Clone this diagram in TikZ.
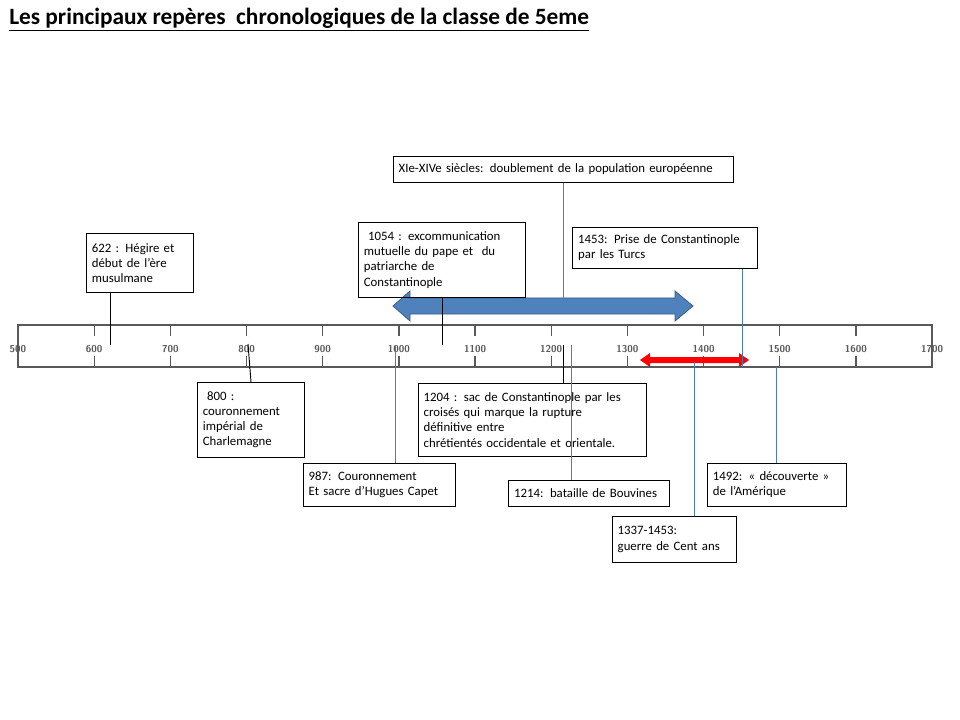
\documentclass[tikz,border=0pt]{standalone}
\usepackage{fontspec}
\setmainfont{Carlito}
\definecolor{lineblue}{RGB}{74,126,187}
\definecolor{arrblue}{RGB}{79,129,189}
\definecolor{arrborder}{RGB}{56,93,138}
\begin{document}
\begin{tikzpicture}[x=0.75pt,y=-0.75pt,
  ev/.style={draw,line width=0.6pt,anchor=north west,inner xsep=4pt,inner ysep=1pt,align=left,font=\fontsize{9.6}{11.4}\selectfont},
  bl/.style={lineblue,line width=0.6pt},
  bk/.style={black,line width=0.7pt},
  yr/.style={font=\sffamily\bfseries\fontsize{7.5}{8}\selectfont,text=black!65}]
\useasboundingbox (0,0) rectangle (960,720);
\node[anchor=west,font=\bfseries\fontsize{17.5}{19}\selectfont,inner sep=0pt] (title) at (9,20) {\underline{Les principaux repères\ \ chronologiques de la classe de 5eme}};
% axis
\draw[gray!70!black,line width=1pt] (18,325) rectangle (932,367);
\foreach \i in {0,...,12}{
  \pgfmathsetmacro\xx{18+76.17*\i}
  \draw[gray!70!black,line width=1pt] (\xx,325)--(\xx,336) (\xx,356)--(\xx,367);
  \pgfmathtruncatemacro\yy{500+100*\i}
  \node[yr] at (\xx,349) {\yy};
}
% blue arrow
\fill[arrblue,draw=arrborder,line width=0.6pt] (393,306)--(410,291)--(410,298)--(675,298)--(675,291)--(693,306)--(675,321)--(675,314)--(410,314)--(410,321)--cycle;
% red arrow
\fill[red] (640,360)--(650,353)--(650,357)--(739,357)--(739,353)--(749,360)--(739,367)--(739,363)--(650,363)--(650,367)--cycle;
% boxes
\node[ev,minimum width=80.25pt,minimum height=44.25pt,text width=72pt] (a) at (86,233) {622 : Hégire et\\ début de l’ère\\ musulmane};
\node[ev,minimum width=80.25pt,minimum height=56.25pt,text width=72pt] (b) at (197,382) {\ 800 :\\ couronnement\\ impérial de\\ Charlemagne};
\node[ev,minimum width=125.25pt,minimum height=56.25pt,text width=117pt] (c) at (358,222) {\ 1054 : excommunication\\ mutuelle du pape et\ \ du\\ patriarche de\\ Constantinople};
\node[ev,minimum width=255pt,minimum height=19.5pt,text width=247pt] (d) at (393,156) {XIe-XIVe siècles: doublement de la population européenne};
\node[ev,minimum width=138.75pt,minimum height=30.75pt,text width=130pt] (e) at (572,227) {1453: Prise de Constantinople\\ par les Turcs};
\node[ev,minimum width=114pt,minimum height=32.25pt,text width=106pt] (f) at (303,463) {987: Couronnement\\ Et sacre d’Hugues Capet};
\node[ev,minimum width=171pt,minimum height=54.75pt,text width=163pt] (g) at (418,383) {1204 : sac de Constantinople par les\\ croisés qui marque la rupture\\ définitive entre\\ chrétientés occidentale et orientale.};
\node[ev,minimum width=120.75pt,minimum height=19.5pt,text width=112pt] (h) at (508,480) {1214: bataille de Bouvines};
\node[ev,minimum width=93pt,minimum height=34.5pt,text width=85pt] (i) at (612,516) {1337-1453:\\ guerre de Cent ans};
\node[ev,minimum width=104.25pt,minimum height=32.25pt,text width=96pt] (j) at (707,463) {1492: « découverte »\\ de l’Amérique};
% connectors
\coordinate (pa) at (110,345); \draw[bk] ([xshift=18pt]a.south west) -- (pa);
\coordinate (pb) at (248,344); \draw[bk] (pb) -- ([xshift=40.5pt]b.north west);
\coordinate (pc) at (442,345); \draw[bk] ([xshift=63pt]c.south west) -- (pc);
\coordinate (pd) at (563,298); \draw[bl] ([xshift=127.5pt]d.south west) -- (pd);
\coordinate (pe) at (742,367); \draw[bl] ([xshift=127.5pt]e.south west) -- (pe);
\coordinate (pf) at (395,345); \draw[bl] ([xshift=69pt]f.north west) -- (pf);
\coordinate (pg) at (563,345); \draw[bk] ([xshift=108.75pt]g.north west) -- (pg);
\coordinate (ph) at (571,345); \draw[bl] ([xshift=47.25pt]h.north west) -- (ph);
\coordinate (pi) at (694,362); \draw[bl] ([xshift=61.5pt]i.north west) -- (pi);
\coordinate (pj) at (776,367); \draw[bl] ([xshift=51.75pt]j.north west) -- (pj);
\end{tikzpicture}
\end{document}
